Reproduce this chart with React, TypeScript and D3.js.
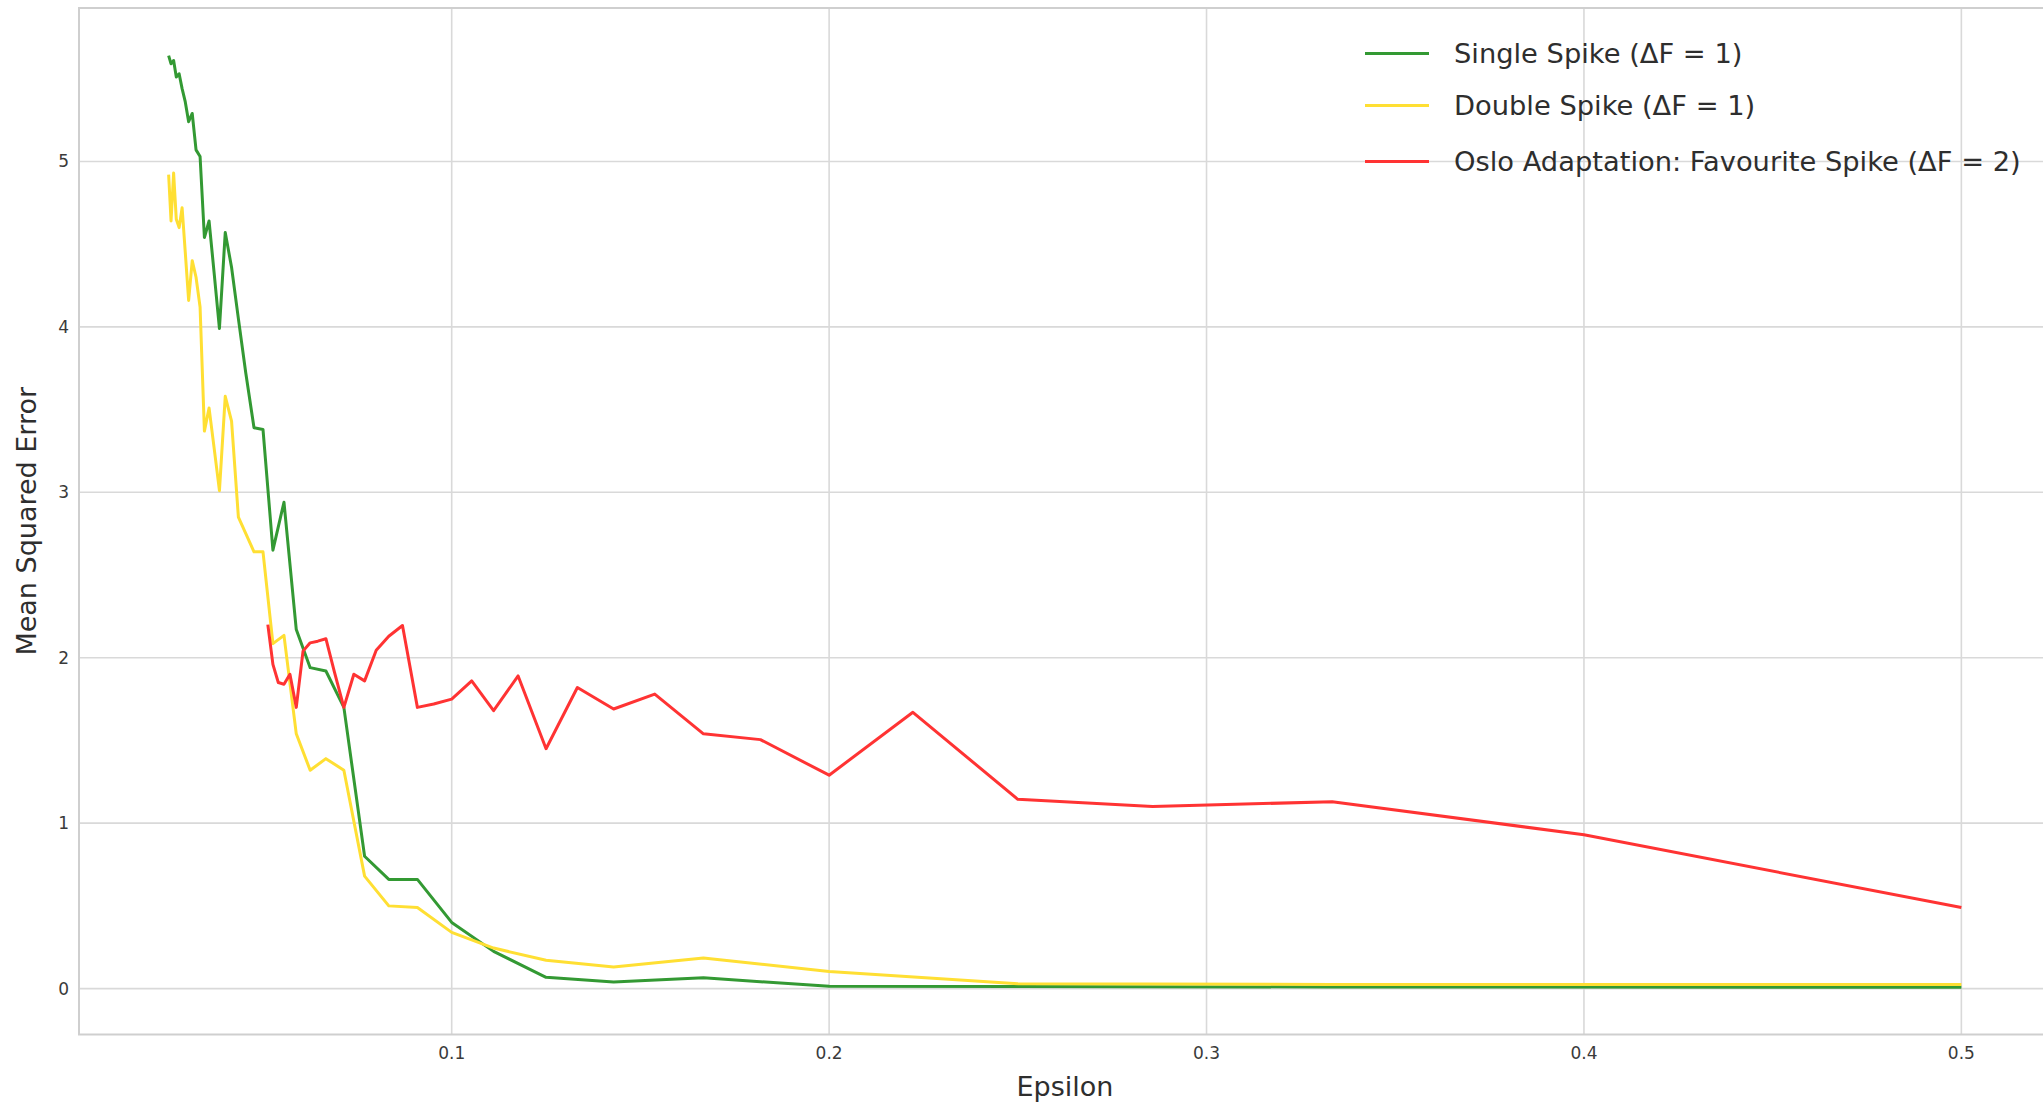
import { useMemo } from "react";
import { scaleLinear, line } from "d3";

// epsilon = 1/n, n = 40..2 (single & double spike runs)
const spikeEps = [
  0.025, 0.02564, 0.02632, 0.02703, 0.02778, 0.02857, 0.02941, 0.0303, 0.03125, 0.03226,
  0.03333, 0.03448, 0.03571, 0.03704, 0.03846, 0.04, 0.04167, 0.04348, 0.04545, 0.04762,
  0.05, 0.05263, 0.05556, 0.05882, 0.0625, 0.06667, 0.07143, 0.07692, 0.08333, 0.09091,
  0.1, 0.1111, 0.125, 0.1429, 0.1667, 0.2, 0.25, 0.3333, 0.5,
];

const singleMse = [
  5.64, 5.59, 5.61, 5.51, 5.53, 5.44, 5.36, 5.24, 5.29, 5.07,
  5.03, 4.54, 4.64, 4.33, 3.99, 4.57, 4.36, 4.05, 3.72, 3.39,
  3.38, 2.65, 2.94, 2.17, 1.94, 1.92, 1.7, 0.8, 0.66, 0.66,
  0.4, 0.225, 0.068, 0.04, 0.065, 0.014, 0.012, 0.01, 0.008,
];

const doubleMse = [
  4.92, 4.64, 4.93, 4.65, 4.6, 4.72, 4.45, 4.16, 4.4, 4.3,
  4.12, 3.37, 3.51, 3.27, 3.01, 3.58, 3.43, 2.85, 2.75, 2.64,
  2.64, 2.085, 2.135, 1.54, 1.32, 1.39, 1.32, 0.68, 0.5, 0.49,
  0.34, 0.245, 0.171, 0.131, 0.185, 0.104, 0.03, 0.025, 0.025,
];

// epsilon = 2/n, n = 39..4 (Oslo adaptation)
const osloEps = [
  0.05128, 0.05263, 0.05405, 0.05556, 0.05714, 0.05882, 0.06061, 0.0625, 0.06452, 0.06667,
  0.06897, 0.07143, 0.07407, 0.07692, 0.08, 0.08333, 0.08696, 0.09091, 0.09524, 0.1,
  0.1053, 0.1111, 0.1176, 0.125, 0.1333, 0.1429, 0.1538, 0.1667, 0.1818, 0.2,
  0.2222, 0.25, 0.2857, 0.3333, 0.4, 0.5,
];

const osloMse = [
  2.2, 1.96, 1.85, 1.84, 1.9, 1.7, 2.04, 2.09, 2.1, 2.115,
  1.91, 1.7, 1.9, 1.86, 2.045, 2.13, 2.195, 1.7, 1.72, 1.75,
  1.86, 1.68, 1.89, 1.45, 1.82, 1.69, 1.78, 1.54, 1.505, 1.29,
  1.67, 1.144, 1.1, 1.13, 0.93, 0.49,
];

const xTicks = [0.1, 0.2, 0.3, 0.4, 0.5];
const yTicks = [0, 1, 2, 3, 4, 5];

const seriesNames = [
  "Single Spike (ΔF = 1)",
  "Double Spike (ΔF = 1)",
  "Oslo Adaptation: Favourite Spike (ΔF = 2)",
];
const seriesColors = ["#339933", "#ffdf33", "#ff3333"];

const W = 2043;
const H = 1106;
const FONT = "'DejaVu Sans', sans-serif";

export default function App() {
  const x = scaleLinear().domain([0.00125, 0.52375]).range([79, 2051]);
  const y = scaleLinear().domain([-0.2775, 5.9275]).range([1034.5, 8]);

  const paths = useMemo(() => {
    const mk = (xs: number[], ys: number[]) =>
      line<number>()
        .x((_, i) => x(xs[i]))
        .y((d) => y(d))(ys) ?? "";
    return [
      mk(spikeEps, singleMse),
      mk(spikeEps, doubleMse),
      mk(osloEps, osloMse),
    ];
  }, []);

  const [x0, x1] = x.range();
  const [y0, y1] = y.range();
  const legendY = [53.5, 105.5, 161.5];

  return (
    <svg
      width={W}
      height={H}
      style={{ position: "absolute", left: 0, top: 0, display: "block", background: "#fff" }}
    >
      <rect x={0} y={0} width={W} height={H} fill="#fff" />

      {/* grid */}
      {yTicks.map((t) => (
        <line key={"gy" + t} x1={x0} x2={x1} y1={y(t)} y2={y(t)} stroke="#d9d9d9" strokeWidth={1.6} />
      ))}
      {xTicks.map((t) => (
        <line key={"gx" + t} x1={x(t)} x2={x(t)} y1={y1} y2={y0} stroke="#d9d9d9" strokeWidth={1.6} />
      ))}

      {/* frame */}
      <rect x={x0} y={y1} width={x1 - x0} height={y0 - y1} fill="none" stroke="#cfcfcf" strokeWidth={2} />

      {/* series */}
      {paths.map((d, i) => (
        <path
          key={i}
          d={d}
          fill="none"
          stroke={seriesColors[i]}
          strokeWidth={3}
          strokeLinejoin="round"
        />
      ))}

      {/* tick labels */}
      {xTicks.map((t) => (
        <text key={"tx" + t} x={x(t)} y={1059} textAnchor="middle" fontFamily={FONT} fontSize={17} fill="#3a3a3a">
          {t}
        </text>
      ))}
      {yTicks.map((t) => (
        <text
          key={"ty" + t}
          x={69}
          y={y(t)}
          dy="0.35em"
          textAnchor="end"
          fontFamily={FONT}
          fontSize={17}
          fill="#3a3a3a"
        >
          {t}
        </text>
      ))}

      {/* axis labels */}
      <text x={(x0 + x1) / 2} y={1096} textAnchor="middle" fontFamily={FONT} fontSize={27} fill="#2e2e2e">
        Epsilon
      </text>
      <text
        transform={`translate(36, ${(y0 + y1) / 2}) rotate(-90)`}
        textAnchor="middle"
        fontFamily={FONT}
        fontSize={27}
        fill="#2e2e2e"
      >
        Mean Squared Error
      </text>

      {/* legend */}
      {seriesNames.map((name, i) => (
        <g key={name}>
          <line x1={1365} x2={1429} y1={legendY[i]} y2={legendY[i]} stroke={seriesColors[i]} strokeWidth={3} />
          <text x={1454} y={legendY[i]} dy="0.36em" fontFamily={FONT} fontSize={27.3} fill="#2e2e2e">
            {name}
          </text>
        </g>
      ))}
    </svg>
  );
}
